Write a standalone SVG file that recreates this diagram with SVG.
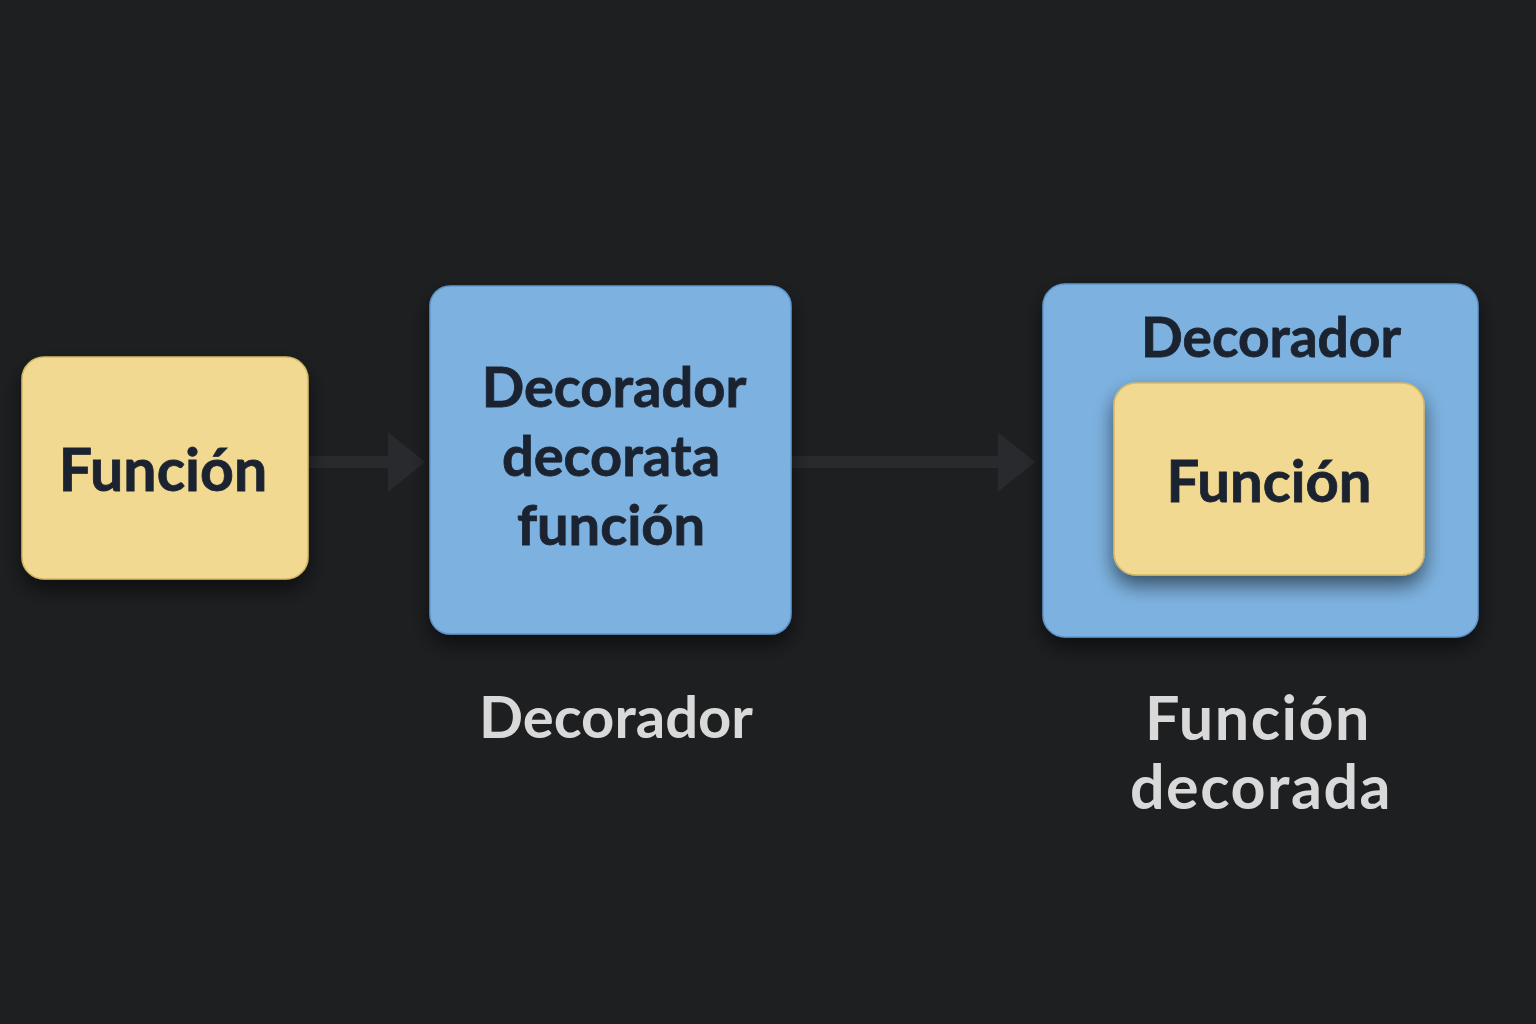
<svg xmlns="http://www.w3.org/2000/svg" width="1536" height="1024" viewBox="0 0 1536 1024">
<defs>
<style>
.lbl{font-family:Lato,"Noto Sans",sans-serif;font-weight:700;text-anchor:middle;fill:#1b2330;stroke:#1b2330;stroke-width:0.8}
.cap{font-family:Lato,"Noto Sans",sans-serif;font-weight:700;text-anchor:middle;fill:#d9d9d9}
.yel{fill:#f2d992;stroke:#d6b865;stroke-width:1.5}
.blu{fill:#7db2e0;stroke:#5f97cc;stroke-width:1.5}
.conn{stroke:#282a2e;stroke-width:12;stroke-linecap:round;fill:none}
</style>
<filter id="sh" x="-20%" y="-20%" width="140%" height="150%">
<feDropShadow dx="0" dy="10" stdDeviation="10" flood-color="#000" flood-opacity="0.55"/>
</filter>
<marker id="ah" markerWidth="4" markerHeight="5" refX="0.5" refY="2.5" orient="auto" markerUnits="strokeWidth">
<path d="M0,0 L3.1,2.5 L0,5 Z" fill="#282a2e"/>
</marker>
</defs>
<rect width="1536" height="1024" fill="#1e1f21"/>
<g id="connectors">
<line class="conn" x1="308" y1="462" x2="394" y2="462" marker-end="url(#ah)"/>
<line class="conn" x1="791" y1="462" x2="1004" y2="462" marker-end="url(#ah)"/>
</g>
<g id="funcion">
<rect class="yel" x="22" y="357" width="286" height="222" rx="22" filter="url(#sh)"/>
<text class="lbl" x="163" y="491" font-size="59">Función</text>
</g>
<g id="decorador">
<rect class="blu" x="430" y="286" width="361" height="348" rx="20" filter="url(#sh)"/>
<text class="lbl" x="614" y="407" font-size="56">Decorador</text>
<text class="lbl" x="611" y="476" font-size="56">decorata</text>
<text class="lbl" x="611" y="545" font-size="56">función</text>
</g>
<g id="funcion-decorada">
<rect class="blu" x="1043" y="284" width="435" height="353" rx="22" filter="url(#sh)"/>
<text class="lbl" x="1271" y="357" font-size="55">Decorador</text>
<g id="funcion-interna">
<rect class="yel" x="1114" y="383" width="310" height="192" rx="22" filter="url(#sh)"/>
<text class="lbl" x="1269" y="502" font-size="58">Función</text>
</g>
</g>
<text class="cap" x="616" y="738" font-size="58">Decorador</text>
<text class="cap" x="1258" y="740" font-size="61" letter-spacing="1.5">Función</text>
<text class="cap" x="1261" y="809" font-size="61" letter-spacing="1.5">decorada</text>
</svg>
